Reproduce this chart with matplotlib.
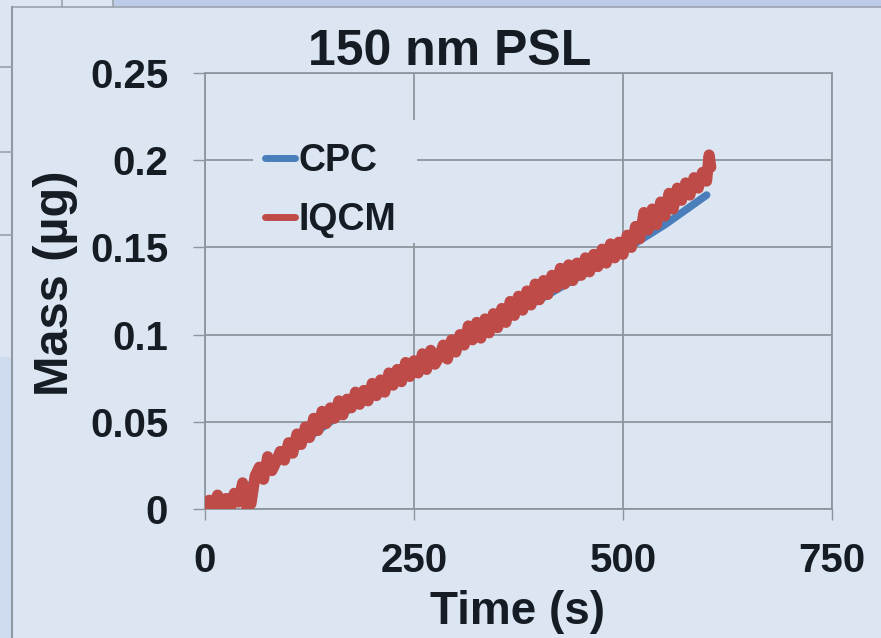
import matplotlib
matplotlib.use("Agg")
import matplotlib.pyplot as plt
from matplotlib.patches import Rectangle
from matplotlib.lines import Line2D

W, H = 881, 638
BG = "#dce6f2"
GRID = "#8d959e"
TXT = "#161c24"

# CPC reference mass (s, ug)
cpc_t = [0, 50, 100, 150, 200, 250, 300, 350, 400, 450, 500, 550, 600]
cpc_m = [0.0, 0.012, 0.033, 0.05, 0.066, 0.08, 0.094, 0.107, 0.12, 0.134, 0.148, 0.163, 0.18]

iqcm_t = [0, 5, 10, 15, 20, 25, 30, 35, 40, 45, 50, 55, 60, 65, 70, 75, 80, 85, 90, 95,
          100, 105, 110, 115, 120, 125, 130, 135, 140, 145, 150, 155, 160, 165, 170, 175,
          180, 185, 190, 195, 200, 205, 210, 215, 220, 225, 230, 235, 240, 245, 250, 255,
          260, 265, 270, 275, 280, 285, 290, 295, 300, 305, 310, 315, 320, 325, 330, 335,
          340, 345, 350, 355, 360, 365, 370, 375, 380, 385, 390, 395, 400, 405, 410, 415,
          420, 425, 430, 435, 440, 445, 450, 455, 460, 465, 470, 475, 480, 485, 490, 495,
          500, 505, 510, 515, 520, 525, 530, 535, 540, 545, 550, 555, 560, 565, 570, 575,
          580, 585, 590, 595, 600, 603, 605]
iqcm_m = [0.000, 0.005, 0.001, 0.008, 0.002, 0.006, 0.000, 0.009, 0.004, 0.015,
          0.001, 0.003, 0.019, 0.024, 0.017, 0.030, 0.022, 0.027, 0.033, 0.028,
          0.038, 0.032, 0.043, 0.037, 0.047, 0.041, 0.052, 0.045, 0.056, 0.049,
          0.058, 0.052, 0.062, 0.054, 0.063, 0.058, 0.067, 0.060, 0.068, 0.062,
          0.072, 0.065, 0.074, 0.067, 0.078, 0.071, 0.080, 0.073, 0.084, 0.076,
          0.085, 0.078, 0.089, 0.080, 0.091, 0.083, 0.087, 0.094, 0.086, 0.097,
          0.090, 0.100, 0.094, 0.105, 0.097, 0.107, 0.098, 0.109, 0.101, 0.112,
          0.104, 0.115, 0.107, 0.119, 0.111, 0.122, 0.114, 0.125, 0.117, 0.129,
          0.120, 0.131, 0.123, 0.134, 0.127, 0.138, 0.129, 0.140, 0.131, 0.141,
          0.134, 0.144, 0.136, 0.146, 0.139, 0.149, 0.141, 0.152, 0.144, 0.153,
          0.146, 0.157, 0.150, 0.162, 0.155, 0.170, 0.160, 0.172, 0.163, 0.176,
          0.168, 0.181, 0.172, 0.184, 0.177, 0.187, 0.180, 0.190, 0.184, 0.193,
          0.188, 0.203, 0.196]

x_ticks = [0, 250, 500, 750]
y_ticks = [0, 0.05, 0.1, 0.15, 0.2, 0.25]
y_labels = ["0", "0.05", "0.1", "0.15", "0.2", "0.25"]

plt.rcParams["font.family"] = ["Liberation Sans", "DejaVu Sans"]
plt.rcParams["font.weight"] = "bold"

fig = plt.figure(figsize=(W / 100, H / 100), dpi=100)
fig.patch.set_facecolor(BG)


def px_rect(x0, y0, x1, y1, color):
    fig.add_artist(Rectangle((x0 / W, 1 - y1 / H), (x1 - x0) / W, (y1 - y0) / H,
                             transform=fig.transFigure, facecolor=color,
                             edgecolor="none", zorder=0))


def px_line(x0, y0, x1, y1, color="#9aa3ad", lw=1.2):
    fig.add_artist(Line2D([x0 / W, x1 / W], [1 - y0 / H, 1 - y1 / H],
                          transform=fig.transFigure, color=color, lw=lw, zorder=1))


# bits of the surrounding screenshot
px_rect(113, 0, W, 7, "#bccce8")
px_rect(0, 357, 12, H, "#cfdcf0")
px_line(62, 0, 62, 7)
px_line(113, 0, 113, 7)
px_line(12, 7, W, 7)
px_line(12, 7, 12, H, color="#8f98a3", lw=1.5)
for yy in (67, 152, 235):
    px_line(0, yy, 12, yy)

ax = fig.add_axes([205 / W, 1 - 509 / H, 627 / W, 436 / H])
ax.set_facecolor(BG)

ax.plot(cpc_t, cpc_m, color="#4a7ebb", lw=5.5, solid_capstyle="round", label="CPC", zorder=3)
ax.plot(iqcm_t, iqcm_m, color="#be4b48", lw=8, solid_joinstyle="round",
        solid_capstyle="round", label="IQCM", zorder=4)

ax.set_xlim(0, 750)
ax.set_ylim(0, 0.25)
ax.set_xticks(x_ticks)
ax.set_xticklabels([str(v) for v in x_ticks])
ax.set_yticks(y_ticks)
ax.set_yticklabels(y_labels)
ax.grid(True, color=GRID, lw=1.3)
ax.set_axisbelow(True)
for s in ax.spines.values():
    s.set_color(GRID)
    s.set_linewidth(1.3)

ax.tick_params(axis="y", direction="out", length=8.5, width=1, color=GRID,
               pad=18, labelsize=29, labelcolor=TXT)
ax.tick_params(axis="x", direction="out", length=8, width=1, color=GRID,
               pad=16, labelsize=29, labelcolor=TXT)

# legend background: x 253..417 px, y 120..243 px (hides the grid there)
ax.add_patch(Rectangle((48 / 627, (509 - 243) / 436), 164 / 627, 123 / 436,
                       transform=ax.transAxes, facecolor=BG, edgecolor="none",
                       zorder=1))
leg = ax.legend(loc="upper left", bbox_to_anchor=(60 / 627, (509 - 143) / 436),
                fontsize=27, frameon=False, handlelength=0.8,
                handletextpad=0.1, labelspacing=0.62, borderpad=0,
                borderaxespad=0)
for t in leg.get_texts():
    t.set_color(TXT)
for h in leg.get_lines():
    h.set_linewidth(5)
    h.set_solid_capstyle("round")

fig.text(450 / W, 1 - 65 / H, "150 nm PSL", ha="center", va="baseline",
         fontsize=36, color=TXT)
fig.text(517 / W, 1 - 624 / H, "Time (s)", ha="center", va="baseline",
         fontsize=33, color=TXT)
fig.text(55 / W, 1 - 283 / H, "Mass (\u00b5g)", ha="center", va="center",
         rotation=90, fontsize=35, color=TXT)

fig.savefig("out.png", dpi=100, facecolor=BG)
